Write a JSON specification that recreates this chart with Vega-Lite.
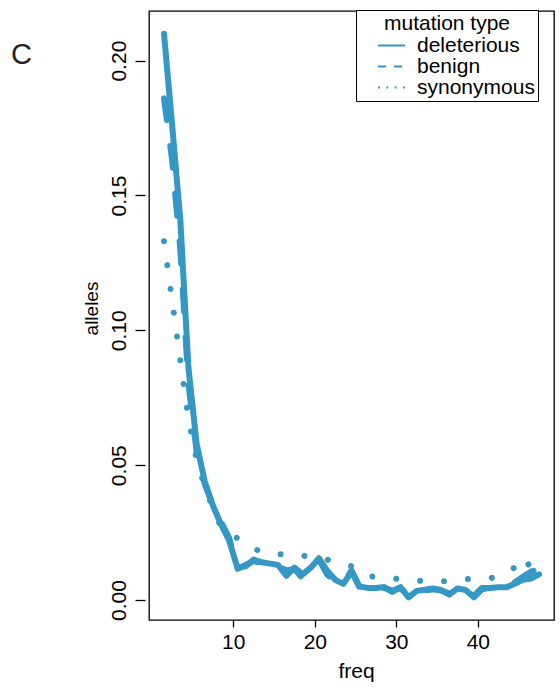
{
  "$schema": "https://vega.github.io/schema/vega-lite/v6.json",
  "width": 405,
  "height": 609,
  "autosize": {"type": "none"},
  "padding": {"left": 149, "top": 11, "right": 6, "bottom": 69},
  "background": "white",
  "title": {"text": "C", "anchor": "start", "frame": "group", "fontSize": 29, "font": "Liberation Sans", "fontWeight": "normal", "color": "#231f20", "baseline": "alphabetic", "dx": -138, "dy": 83, "offset": 0},
  "config": {"view": {"stroke": "black", "strokeWidth": 1.3}, "font": "Liberation Sans"},
  "datasets": {
    "sfs": [
      {"freq":1.5,"alleles":0.210,"type":"deleterious"},{"freq":2.5,"alleles":0.176,"type":"deleterious"},{"freq":3.5,"alleles":0.141,"type":"deleterious"},{"freq":4.5,"alleles":0.086,"type":"deleterious"},{"freq":5.5,"alleles":0.058,"type":"deleterious"},{"freq":6.5,"alleles":0.044,"type":"deleterious"},{"freq":7.5,"alleles":0.035,"type":"deleterious"},{"freq":8.5,"alleles":0.028,"type":"deleterious"},{"freq":9.5,"alleles":0.022,"type":"deleterious"},{"freq":10.5,"alleles":0.012,"type":"deleterious"},
      {"freq":11.5,"alleles":0.0125,"type":"deleterious"},{"freq":12.5,"alleles":0.015,"type":"deleterious"},{"freq":13.5,"alleles":0.014,"type":"deleterious"},{"freq":14.5,"alleles":0.0135,"type":"deleterious"},{"freq":15.5,"alleles":0.013,"type":"deleterious"},{"freq":16.5,"alleles":0.009,"type":"deleterious"},{"freq":17.5,"alleles":0.012,"type":"deleterious"},{"freq":18.5,"alleles":0.0095,"type":"deleterious"},{"freq":19.5,"alleles":0.012,"type":"deleterious"},{"freq":20.5,"alleles":0.0155,"type":"deleterious"},
      {"freq":21.5,"alleles":0.011,"type":"deleterious"},{"freq":22.5,"alleles":0.0075,"type":"deleterious"},{"freq":23.5,"alleles":0.006,"type":"deleterious"},{"freq":24.5,"alleles":0.0105,"type":"deleterious"},{"freq":25.5,"alleles":0.005,"type":"deleterious"},{"freq":26.5,"alleles":0.0045,"type":"deleterious"},{"freq":27.5,"alleles":0.0045,"type":"deleterious"},{"freq":28.5,"alleles":0.0048,"type":"deleterious"},{"freq":29.5,"alleles":0.003,"type":"deleterious"},{"freq":30.5,"alleles":0.0048,"type":"deleterious"},
      {"freq":31.5,"alleles":0.001,"type":"deleterious"},{"freq":32.5,"alleles":0.0034,"type":"deleterious"},{"freq":33.5,"alleles":0.0038,"type":"deleterious"},{"freq":34.5,"alleles":0.0043,"type":"deleterious"},{"freq":35.5,"alleles":0.0037,"type":"deleterious"},{"freq":36.5,"alleles":0.002,"type":"deleterious"},{"freq":37.5,"alleles":0.0043,"type":"deleterious"},{"freq":38.5,"alleles":0.0037,"type":"deleterious"},{"freq":39.5,"alleles":0.001,"type":"deleterious"},{"freq":40.5,"alleles":0.004,"type":"deleterious"},
      {"freq":41.5,"alleles":0.0045,"type":"deleterious"},{"freq":42.5,"alleles":0.0047,"type":"deleterious"},{"freq":43.5,"alleles":0.0047,"type":"deleterious"},{"freq":44.5,"alleles":0.006,"type":"deleterious"},{"freq":45.5,"alleles":0.0075,"type":"deleterious"},{"freq":46.5,"alleles":0.008,"type":"deleterious"},{"freq":47.5,"alleles":0.0095,"type":"deleterious"},

      {"freq":1.5,"alleles":0.186,"type":"benign"},{"freq":2.5,"alleles":0.163,"type":"benign"},{"freq":3.5,"alleles":0.130,"type":"benign"},{"freq":4.5,"alleles":0.080,"type":"benign"},{"freq":5.5,"alleles":0.055,"type":"benign"},{"freq":6.5,"alleles":0.043,"type":"benign"},{"freq":7.5,"alleles":0.035,"type":"benign"},{"freq":8.5,"alleles":0.029,"type":"benign"},{"freq":9.5,"alleles":0.023,"type":"benign"},{"freq":10.5,"alleles":0.0115,"type":"benign"},
      {"freq":11.5,"alleles":0.013,"type":"benign"},{"freq":12.5,"alleles":0.0145,"type":"benign"},{"freq":13.5,"alleles":0.0135,"type":"benign"},{"freq":14.5,"alleles":0.013,"type":"benign"},{"freq":15.5,"alleles":0.0125,"type":"benign"},{"freq":16.5,"alleles":0.011,"type":"benign"},{"freq":17.5,"alleles":0.0115,"type":"benign"},{"freq":18.5,"alleles":0.008,"type":"benign"},{"freq":19.5,"alleles":0.0105,"type":"benign"},{"freq":20.5,"alleles":0.015,"type":"benign"},
      {"freq":21.5,"alleles":0.0095,"type":"benign"},{"freq":22.5,"alleles":0.007,"type":"benign"},{"freq":23.5,"alleles":0.0065,"type":"benign"},{"freq":24.5,"alleles":0.011,"type":"benign"},{"freq":25.5,"alleles":0.0045,"type":"benign"},{"freq":26.5,"alleles":0.0045,"type":"benign"},{"freq":27.5,"alleles":0.0045,"type":"benign"},{"freq":28.5,"alleles":0.0045,"type":"benign"},{"freq":29.5,"alleles":0.0035,"type":"benign"},{"freq":30.5,"alleles":0.0045,"type":"benign"},
      {"freq":31.5,"alleles":0.0015,"type":"benign"},{"freq":32.5,"alleles":0.003,"type":"benign"},{"freq":33.5,"alleles":0.0035,"type":"benign"},{"freq":34.5,"alleles":0.004,"type":"benign"},{"freq":35.5,"alleles":0.0035,"type":"benign"},{"freq":36.5,"alleles":0.0025,"type":"benign"},{"freq":37.5,"alleles":0.004,"type":"benign"},{"freq":38.5,"alleles":0.0035,"type":"benign"},{"freq":39.5,"alleles":0.0015,"type":"benign"},{"freq":40.5,"alleles":0.0045,"type":"benign"},
      {"freq":41.5,"alleles":0.0045,"type":"benign"},{"freq":42.5,"alleles":0.005,"type":"benign"},{"freq":43.5,"alleles":0.005,"type":"benign"},{"freq":44.5,"alleles":0.0065,"type":"benign"},{"freq":45.5,"alleles":0.0085,"type":"benign"},{"freq":46.5,"alleles":0.0105,"type":"benign"},{"freq":47.5,"alleles":0.0115,"type":"benign"},

      {"freq":1.5,"alleles":0.133,"type":"synonymous"},{"freq":2.5,"alleles":0.111,"type":"synonymous"},{"freq":3.5,"alleles":0.089,"type":"synonymous"},{"freq":4.5,"alleles":0.067,"type":"synonymous"},{"freq":5.5,"alleles":0.052,"type":"synonymous"},{"freq":6.5,"alleles":0.042,"type":"synonymous"},{"freq":7.5,"alleles":0.034,"type":"synonymous"},{"freq":8.5,"alleles":0.027,"type":"synonymous"},{"freq":9.5,"alleles":0.024,"type":"synonymous"},{"freq":10.5,"alleles":0.023,"type":"synonymous"},
      {"freq":11.5,"alleles":0.021,"type":"synonymous"},{"freq":12.5,"alleles":0.019,"type":"synonymous"},{"freq":13.5,"alleles":0.018,"type":"synonymous"},{"freq":14.5,"alleles":0.017,"type":"synonymous"},{"freq":15.5,"alleles":0.017,"type":"synonymous"},{"freq":16.5,"alleles":0.017,"type":"synonymous"},{"freq":17.5,"alleles":0.0165,"type":"synonymous"},{"freq":18.5,"alleles":0.0165,"type":"synonymous"},{"freq":19.5,"alleles":0.016,"type":"synonymous"},{"freq":20.5,"alleles":0.015,"type":"synonymous"},
      {"freq":21.5,"alleles":0.015,"type":"synonymous"},{"freq":22.5,"alleles":0.014,"type":"synonymous"},{"freq":23.5,"alleles":0.0135,"type":"synonymous"},{"freq":24.5,"alleles":0.0125,"type":"synonymous"},{"freq":25.5,"alleles":0.0105,"type":"synonymous"},{"freq":26.5,"alleles":0.009,"type":"synonymous"},{"freq":27.5,"alleles":0.0085,"type":"synonymous"},{"freq":28.5,"alleles":0.008,"type":"synonymous"},{"freq":29.5,"alleles":0.008,"type":"synonymous"},{"freq":30.5,"alleles":0.0078,"type":"synonymous"},
      {"freq":31.5,"alleles":0.0075,"type":"synonymous"},{"freq":32.5,"alleles":0.0072,"type":"synonymous"},{"freq":33.5,"alleles":0.007,"type":"synonymous"},{"freq":34.5,"alleles":0.0068,"type":"synonymous"},{"freq":35.5,"alleles":0.0068,"type":"synonymous"},{"freq":36.5,"alleles":0.0072,"type":"synonymous"},{"freq":37.5,"alleles":0.0078,"type":"synonymous"},{"freq":38.5,"alleles":0.0078,"type":"synonymous"},{"freq":39.5,"alleles":0.0078,"type":"synonymous"},{"freq":40.5,"alleles":0.0078,"type":"synonymous"},
      {"freq":41.5,"alleles":0.008,"type":"synonymous"},{"freq":42.5,"alleles":0.009,"type":"synonymous"},{"freq":43.5,"alleles":0.0105,"type":"synonymous"},{"freq":44.5,"alleles":0.012,"type":"synonymous"},{"freq":45.5,"alleles":0.016,"type":"synonymous"},{"freq":46.5,"alleles":0.012,"type":"synonymous"},{"freq":47.5,"alleles":0.010,"type":"synonymous"}
    ]
  },
  "encoding": {
    "x": {"field": "freq", "type": "quantitative",
      "scale": {"domain": [-0.34, 49.34], "nice": false, "zero": false},
      "axis": {"values": [10, 20, 30, 40], "domain": false, "grid": false, "tickSize": 7, "tickWidth": 1.3, "tickColor": "black",
        "labelFontSize": 21, "labelColor": "black", "labelFont": "Liberation Sans", "labelPadding": 4,
        "title": "freq", "titleFontSize": 21, "titleFontWeight": "normal", "titleColor": "black", "titleFont": "Liberation Sans",
        "titleBaseline": "alphabetic", "titleY": 57, "titleX": 207}},
    "y": {"field": "alleles", "type": "quantitative",
      "scale": {"domain": [-0.0074, 0.2184], "nice": false, "zero": false},
      "axis": {"values": [0, 0.05, 0.1, 0.15, 0.2], "format": ".2f", "domain": false, "grid": false, "offset": 4, "tickSize": 10, "tickWidth": 1.3, "tickColor": "black",
        "labelAngle": -90, "labelAlign": "center", "labelBaseline": "alphabetic", "labelPadding": 10,
        "labelFontSize": 21, "labelColor": "black", "labelFont": "Liberation Sans",
        "title": "alleles", "titleFontSize": 19, "titleFontWeight": "normal", "titleColor": "black", "titleFont": "Liberation Sans",
        "titleAngle": -90, "titleBaseline": "alphabetic", "titleAlign": "center", "titleX": -48, "titleY": 297}}
  },
  "layer": [
    {
      "data": {"name": "sfs"},
      "transform": [{"filter": "datum.type === 'deleterious'"}],
      "mark": {"type": "line", "strokeWidth": 6, "strokeCap": "round", "strokeJoin": "round", "color": "#3598C4"}
    },
    {
      "data": {"name": "sfs"},
      "transform": [{"filter": "datum.type === 'benign'"}],
      "mark": {"type": "line", "strokeWidth": 6, "strokeCap": "round", "strokeJoin": "round", "strokeDash": [22, 26], "color": "#3598C4"}
    },
    {
      "data": {"name": "sfs"},
      "transform": [{"filter": "datum.type === 'synonymous'"}],
      "mark": {"type": "line", "strokeWidth": 6, "strokeCap": "round", "strokeJoin": "round", "strokeDash": [0.01, 24], "color": "#3598C4"}
    },
    {
      "data": {"name": "sfs"},
      "transform": [{"filter": "datum.freq === 1.5"}],
      "mark": {"type": "line", "strokeWidth": 2, "strokeCap": "butt", "color": "#3598C4"},
      "encoding": {
        "strokeDash": {"field": "type", "type": "nominal",
          "scale": {"domain": ["deleterious", "benign", "synonymous"], "range": [[1, 0], [8, 8], [2, 6.3]]},
          "legend": {"orient": "none", "legendX": 207, "legendY": -1, "title": "\u00a0\u00a0\u00a0\u00a0\u00a0\u00a0\u00a0\u00a0\u00a0mutation type",
            "titleFontSize": 21, "titleFontWeight": "normal", "titleColor": "black", "titleFont": "Liberation Sans", "titleAnchor": "middle", "titlePadding": 1,
            "labelFontSize": 21, "labelColor": "black", "labelFont": "Liberation Sans", "labelOffset": 15, "labelExpr": "datum.label + '\u00a0\u00a0\u00a0\u00a0\u00a0\u00a0'",
            "symbolType": "M-2.7,0H2.7", "symbolSize": 100, "symbolStrokeWidth": 2, "symbolStrokeColor": "#3598C4", "symbolFillColor": "transparent", "symbolOffset": 22,
            "rowPadding": -12, "padding": 3, "strokeColor": "black", "fillColor": "white",
            "encode": {"symbols": {"update": {"strokeCap": {"value": "butt"}}}}}}
      }
    },
    {
      "data": {"values": [{"label": "NW_SFS"}]},
      "mark": {"type": "text", "fontSize": 20, "fontWeight": "bold", "font": "Liberation Sans", "baseline": "alphabetic", "align": "center", "color": "black"},
      "encoding": {"x": {"datum": 24.4}, "y": {"datum": 0.1284}, "text": {"field": "label", "type": "nominal"}}
    }
  ]
}
